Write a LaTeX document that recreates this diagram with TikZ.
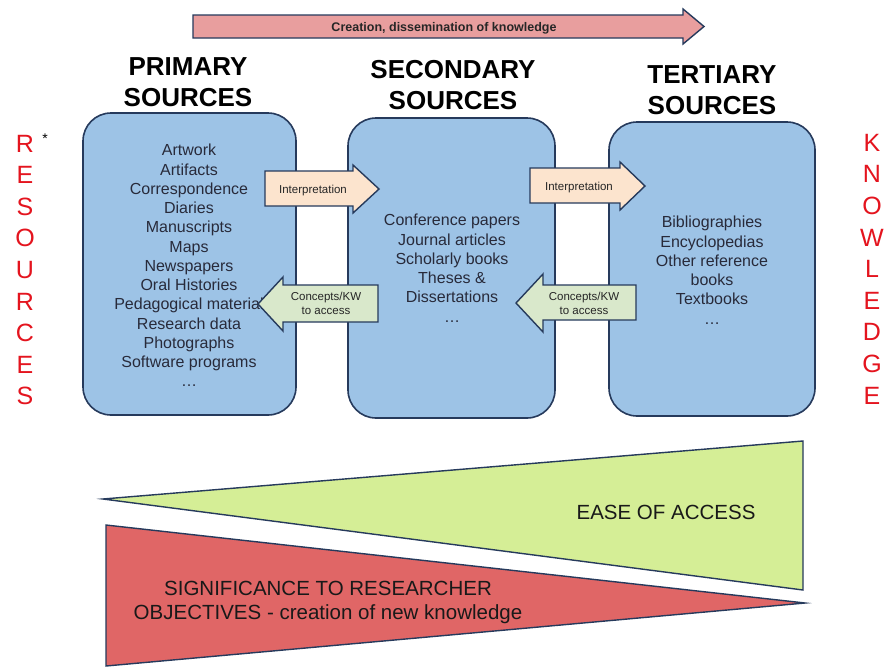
\documentclass[tikz,border=0pt]{standalone}
\usepackage{fontspec}
\setmainfont{Liberation Sans}
\definecolor{boxfill}{RGB}{157,195,230}
\definecolor{navy}{RGB}{38,58,92}
\definecolor{topfill}{RGB}{232,158,158}
\definecolor{interfill}{RGB}{252,228,206}
\definecolor{concfill}{RGB}{217,232,203}
\definecolor{greenfill}{RGB}{213,238,150}
\definecolor{redfill}{RGB}{224,102,102}
\definecolor{resred}{RGB}{228,20,30}
\definecolor{listtext}{RGB}{40,42,58}
\begin{document}
\begin{tikzpicture}[x=1pt,y=-1pt,
  srcbox/.style={draw=navy,line width=1.6pt,fill=boxfill,rounded corners=28pt,inner sep=0pt},
  shapeline/.style={draw=navy,line width=1.4pt,line join=miter},
  title/.style={align=center,inner sep=0pt,font=\fontsize{26}{31}\selectfont\bfseries},
  listtxt/.style={align=center,inner sep=0pt,anchor=north,text=listtext,font=\fontsize{16}{19.25}\selectfont},
  vertword/.style={align=center,inner sep=0pt,text=resred,font=\fontsize{25}{31.6}\selectfont},
  smalltxt/.style={inner sep=0pt,text=black!85,font=\fontsize{11.5}{14}\selectfont},
  bigtxt/.style={align=center,inner sep=0pt,text=black!90,font=\fontsize{20.5}{24}\selectfont}]
\useasboundingbox (0,0) rectangle (885,667);
\fill[white] (0,0) rectangle (885,667);

% top arrow
\draw[shapeline,fill=topfill] (193,15) -- (683,15) -- (683,9) -- (704,26.5) -- (683,44) -- (683,38) -- (193,38) -- cycle;
\node[inner sep=0pt,anchor=base,text=black!85,font=\fontsize{12.5}{14}\selectfont\bfseries] (toptxt) at (444,31) {Creation, dissemination of knowledge};

% titles
\node[title] (t1) at (188,82.5) {PRIMARY\\SOURCES};
\node[title] (t2) at (453,85.5) {SECONDARY\\SOURCES};
\node[title] (t3) at (712,90.5) {TERTIARY\\SOURCES};

% boxes
\node[srcbox,minimum width=213pt,minimum height=302pt] (prim) at (189.5,264) {};
\node[srcbox,minimum width=207pt,minimum height=300pt] (sec) at (451.5,268) {};
\node[srcbox,minimum width=206pt,minimum height=294pt] (tert) at (712,269) {};

% lists
\node[listtxt] (l1) at (189,144) {Artwork\\Artifacts\\Correspondence\\Diaries\\Manuscripts\\Maps\\Newspapers\\Oral Histories\\Pedagogical material\\Research data\\Photographs\\Software programs\\\dots};
\node[listtxt] (l2) at (452,214) {Conference papers\\Journal articles\\Scholarly books\\Theses \&\\Dissertations\\\dots};
\node[listtxt] (l3) at (712,216) {Bibliographies\\Encyclopedias\\Other reference\\books\\Textbooks\\\dots};

% interpretation arrows
\draw[shapeline,fill=interfill] (265,171) -- (353,171) -- (353,165) -- (379,189) -- (353,213) -- (353,206) -- (265,206) -- cycle;
\node[smalltxt,anchor=base] (i1) at (313,193.5) {Interpretation};
\draw[shapeline,fill=interfill] (530,168) -- (620,168) -- (620,162) -- (645,186) -- (620,210) -- (620,203) -- (530,203) -- cycle;
\node[smalltxt,anchor=base] (i2) at (579,190) {Interpretation};

% concepts arrows
\draw[shapeline,fill=concfill] (378,285) -- (283,285) -- (283,277) -- (258,304) -- (283,331) -- (283,322) -- (378,322) -- cycle;
\node[smalltxt,align=center,anchor=north] (c1) at (326,292) {Concepts/KW\\to access};
\draw[shapeline,fill=concfill] (636,285) -- (543,285) -- (543,274) -- (516,303) -- (543,332) -- (543,320) -- (636,320) -- cycle;
\node[smalltxt,align=center,anchor=north] (c2) at (584,292) {Concepts/KW\\to access};

% side words
\node[vertword] (res) at (25,270) {R\\E\\S\\O\\U\\R\\C\\E\\S};
\node[inner sep=0pt,font=\fontsize{14}{14}\selectfont] (star) at (45,139) {*};
\node[vertword] (know) at (872,269) {K\\N\\O\\W\\L\\E\\D\\G\\E};

% bottom triangles
\draw[shapeline,fill=greenfill] (103,499) -- (803,441) -- (803,590) -- cycle;
\node[bigtxt] (ease) at (666,512) {EASE OF ACCESS};
\draw[shapeline,fill=redfill] (106,525) -- (805,603) -- (106,666) -- cycle;
\node[bigtxt,anchor=north] (sig) at (328,581) {SIGNIFICANCE TO RESEARCHER\\OBJECTIVES - creation of new knowledge};
\end{tikzpicture}
\end{document}
